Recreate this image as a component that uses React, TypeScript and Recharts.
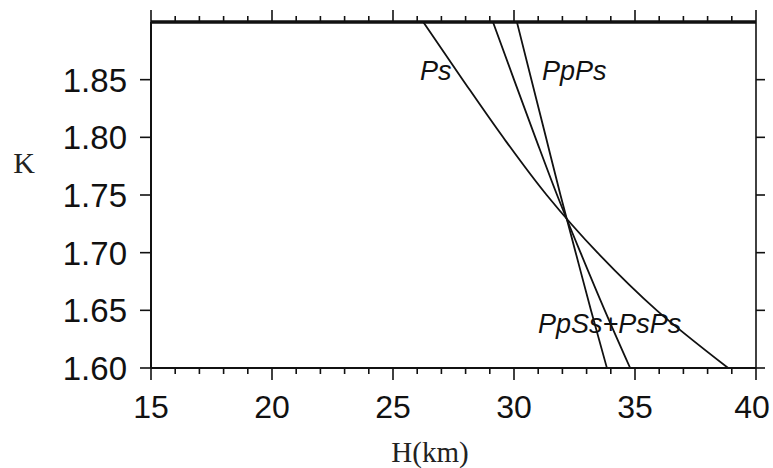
import React from 'react';
import { LineChart, Line, XAxis, YAxis, ReferenceDot } from 'recharts';

// Velocity ratio levels (K) at which each curve is sampled
const K_VALUES = [1.6, 1.65, 1.7, 1.75, 1.8, 1.85, 1.9];
// Depth H (km) of each phase curve at the K levels above
const PS_H = [38.85, 35.9, 33.45, 31.35, 29.55, 27.88, 26.25];
const PPPS_H = [34.8, 33.75, 32.75, 31.78, 30.88, 30.0, 29.13];
const PPSS_PSPS_H = [33.84, 33.18, 32.55, 31.92, 31.32, 30.72, 30.12];

const X_MAJOR = [15, 20, 25, 30, 35, 40];
const X_MINOR = [15, 16, 17, 18, 19, 20, 21, 22, 23, 24, 25, 26, 27, 28, 29, 30, 31, 32, 33, 34, 35, 36, 37, 38, 39, 40];
const Y_MAJOR = [1.6, 1.65, 1.7, 1.75, 1.8, 1.85];

const NOTE_TEXT = ['Ps', 'PpPs', 'PpSs+PsPs'];
const NOTE_H = [26.12, 31.16, 30.99];
const NOTE_K = [1.85, 1.85, 1.63];

const toSeries = (hs: number[]) => K_VALUES.map((k, i) => ({ h: hs[i], k }));
const psData = toSeries(PS_H);
const ppPsData = toSeries(PPPS_H);
const ppSsData = toSeries(PPSS_PSPS_H);

const INK = '#111';
const SANS = '"Liberation Sans", Arial, Helvetica, sans-serif';
const SERIF = '"Liberation Serif", "Times New Roman", serif';

const BottomTick = (props: any) => {
  const { x, y, payload } = props;
  const v = payload.value;
  const major = X_MAJOR.includes(v);
  return (
    <g>
      <line x1={x} y1={y} x2={x} y2={y + (major ? 12 : 6)} stroke={INK} strokeWidth={1.6} />
      {major && (
        <text x={v === 40 ? x - 4 : x} y={y + 50} textAnchor="middle" fontSize={32} fontFamily={SANS} fill={INK}>
          {v}
        </text>
      )}
    </g>
  );
};

const TopTick = (props: any) => {
  const { x, y, payload } = props;
  const major = X_MAJOR.includes(payload.value);
  return <line x1={x} y1={y} x2={x} y2={y - (major ? 12 : 6)} stroke={INK} strokeWidth={1.6} />;
};

const LeftTick = (props: any) => {
  const { x, y, payload } = props;
  return (
    <g>
      <line x1={x} y1={y} x2={x - 11} y2={y} stroke={INK} strokeWidth={1.6} />
      <text x={x - 24} y={y + 12} textAnchor="end" fontSize={33} fontFamily={SANS} fill={INK}>
        {Number(payload.value).toFixed(2)}
      </text>
    </g>
  );
};

const RightTick = (props: any) => {
  const { x, y } = props;
  return <line x1={x} y1={y} x2={x + 9} y2={y} stroke={INK} strokeWidth={1.6} />;
};

const Note = (text: string) => (props: any) => (
  <text x={props.cx} y={props.cy} fontSize={27} fontStyle="italic" fontFamily={SANS} fill={INK}>
    {text}
  </text>
);

export default function App() {
  return (
    <div style={{ position: 'absolute', left: 0, top: 0, background: '#fff' }}>
      <LineChart width={773} height={468} margin={{ top: 21, right: 16, bottom: 0, left: 0 }}>
        <XAxis
          xAxisId="top"
          orientation="top"
          type="number"
          dataKey="h"
          domain={[15, 40]}
          ticks={X_MINOR}
          interval={0}
          height={1}
          tickSize={0}
          tickMargin={0}
          tickLine={false}
          tick={<TopTick />}
          axisLine={{ stroke: INK, strokeWidth: 3.5 }}
        />
        <XAxis
          type="number"
          dataKey="h"
          domain={[15, 40]}
          ticks={X_MINOR}
          interval={0}
          height={100}
          tickSize={0}
          tickMargin={0}
          tickLine={false}
          tick={<BottomTick />}
          axisLine={{ stroke: INK, strokeWidth: 2 }}
          label={(p: any) => (
            <text x={430} y={462} textAnchor="middle" fontSize={29} fontFamily={SERIF} fill="#222">
              H(km)
            </text>
          )}
        />
        <YAxis
          type="number"
          domain={[1.6, 1.9]}
          ticks={Y_MAJOR}
          interval={0}
          width={151}
          tickSize={0}
          tickMargin={0}
          tickLine={false}
          tick={<LeftTick />}
          axisLine={{ stroke: INK, strokeWidth: 2 }}
          label={(p: any) => (
            <text x={24} y={173} textAnchor="middle" fontSize={30} fontFamily={SERIF} fill="#222">
              K
            </text>
          )}
        />
        <YAxis
          yAxisId="right"
          orientation="right"
          type="number"
          domain={[1.6, 1.9]}
          ticks={Y_MAJOR}
          interval={0}
          width={1}
          tickSize={0}
          tickMargin={0}
          tickLine={false}
          tick={<RightTick />}
          axisLine={{ stroke: INK, strokeWidth: 1.6 }}
        />
        <Line data={psData} dataKey="k" type="monotoneY" stroke={INK} strokeWidth={1.8} dot={false} isAnimationActive={false} />
        <Line data={ppPsData} dataKey="k" type="monotoneY" stroke={INK} strokeWidth={1.8} dot={false} isAnimationActive={false} />
        <Line data={ppSsData} dataKey="k" type="monotoneY" stroke={INK} strokeWidth={1.8} dot={false} isAnimationActive={false} />
        {/* invisible copy bound to the top and right axes so they are drawn */}
        <Line
          data={psData}
          dataKey="k"
          xAxisId="top"
          yAxisId="right"
          stroke="none"
          strokeWidth={0}
          dot={false}
          activeDot={false}
          legendType="none"
          isAnimationActive={false}
        />
        {NOTE_TEXT.map((t, i) => (
          <ReferenceDot key={t} x={NOTE_H[i]} y={NOTE_K[i]} r={0} ifOverflow="visible" shape={Note(t)} />
        ))}
      </LineChart>
    </div>
  );
}
